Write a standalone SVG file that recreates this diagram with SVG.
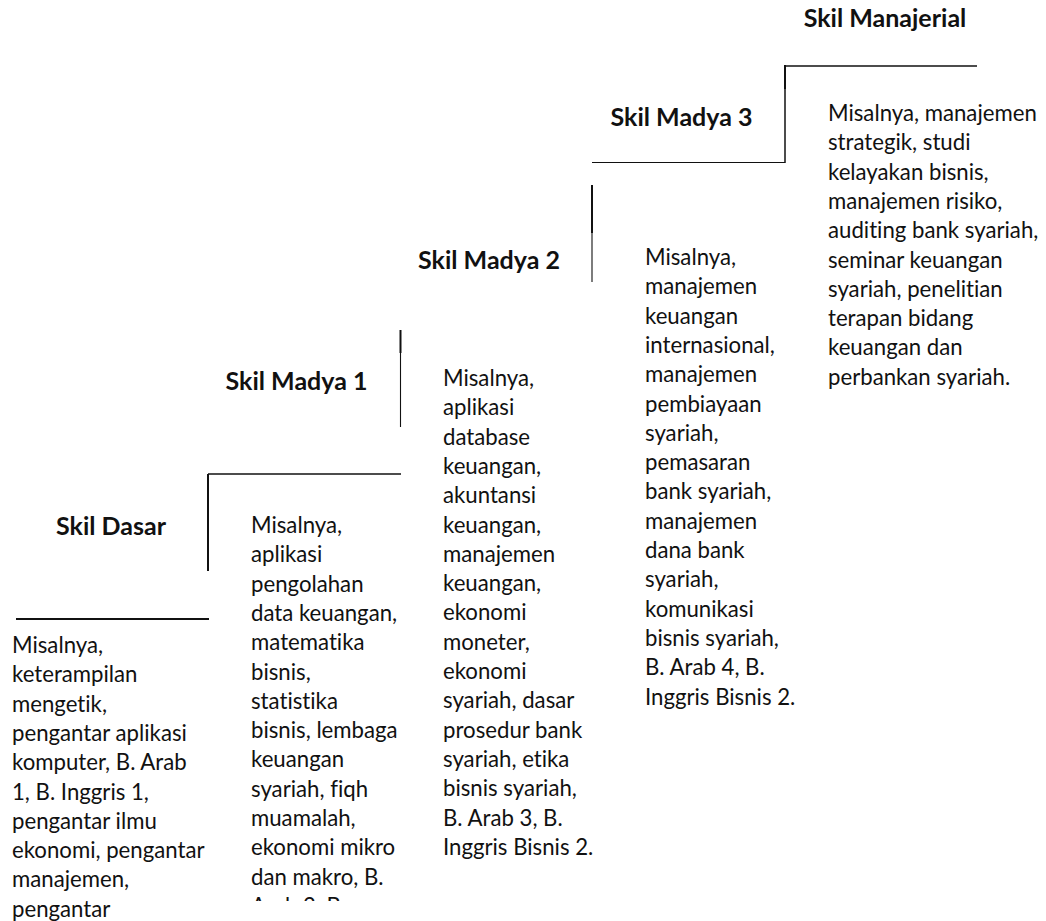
<svg xmlns="http://www.w3.org/2000/svg" width="1046" height="921" viewBox="0 0 1046 921">
  <style>
    .title { font-family: Lato, "Open Sans", "Liberation Sans", sans-serif; font-weight: bold; font-size: 25px; fill: #111; text-anchor: middle; font-variant-ligatures: none; }
    .body { font-family: Lato, "Open Sans", "Liberation Sans", sans-serif; font-size: 22.2px; fill: #111; font-variant-ligatures: none; }
    .stair { stroke: #111; fill: none; stroke-linecap: butt; }
    .thick { stroke-width: 2; }
    .mid { stroke-width: 1.5; }
    .thin { stroke-width: 1.1; }
  </style>
  <defs>
    <clipPath id="clip-col2">
      <rect x="240" y="480" width="170" height="421"/>
    </clipPath>
  </defs>
  <rect width="1046" height="921" fill="#fff"/>

  <!-- staircase strokes separating the skill levels -->
  <g id="connectors">
    <line class="stair thick" x1="16" y1="619" x2="209" y2="619"/>
    <line class="stair thick" x1="208" y1="474" x2="208" y2="571"/>
    <line class="stair mid" x1="208" y1="474" x2="401" y2="474"/>
    <line class="stair thick" x1="400.5" y1="330" x2="400.5" y2="353"/>
    <line class="stair thin" x1="400.5" y1="353" x2="400.5" y2="427"/>
    <line class="stair thick" x1="592" y1="185" x2="592" y2="233"/>
    <line class="stair thin" x1="592" y1="233" x2="592" y2="282"/>
    <line class="stair thin" x1="592" y1="162.5" x2="785" y2="162.5"/>
    <line class="stair thick" x1="785" y1="65" x2="785" y2="89"/>
    <line class="stair mid" x1="785" y1="89" x2="785" y2="163"/>
    <line class="stair mid" x1="784" y1="66" x2="977" y2="66"/>
  </g>

  <g id="node-dasar">
    <text class="title" x="111" y="535">Skil Dasar</text>
    <text class="body" x="12">
      <tspan x="12" y="653">Misalnya,</tspan>
      <tspan x="12" y="682.3">keterampilan</tspan>
      <tspan x="12" y="711.6">mengetik,</tspan>
      <tspan x="12" y="740.9">pengantar aplikasi</tspan>
      <tspan x="12" y="770.2">komputer, B. Arab</tspan>
      <tspan x="12" y="799.5">1, B. Inggris 1,</tspan>
      <tspan x="12" y="828.8">pengantar ilmu</tspan>
      <tspan x="12" y="858.1">ekonomi, pengantar</tspan>
      <tspan x="12" y="887.4">manajemen,</tspan>
      <tspan x="12" y="916.7">pengantar</tspan>
    </text>
  </g>

  <g id="node-madya-1">
    <text class="title" x="296.5" y="390">Skil Madya 1</text>
    <text class="body" x="251" clip-path="url(#clip-col2)">
      <tspan x="251" y="533">Misalnya,</tspan>
      <tspan x="251" y="562.3">aplikasi</tspan>
      <tspan x="251" y="591.6">pengolahan</tspan>
      <tspan x="251" y="620.9">data keuangan,</tspan>
      <tspan x="251" y="650.2">matematika</tspan>
      <tspan x="251" y="679.5">bisnis,</tspan>
      <tspan x="251" y="708.8">statistika</tspan>
      <tspan x="251" y="738.1">bisnis, lembaga</tspan>
      <tspan x="251" y="767.4">keuangan</tspan>
      <tspan x="251" y="796.7">syariah, fiqh</tspan>
      <tspan x="251" y="826">muamalah,</tspan>
      <tspan x="251" y="855.3">ekonomi mikro</tspan>
      <tspan x="251" y="884.6">dan makro, B.</tspan>
      <tspan x="251" y="913.9">Arab 2, B.</tspan>
    </text>
  </g>

  <g id="node-madya-2">
    <text class="title" x="489" y="269">Skil Madya 2</text>
    <text class="body" x="443">
      <tspan x="443" y="386">Misalnya,</tspan>
      <tspan x="443" y="415.3">aplikasi</tspan>
      <tspan x="443" y="444.6">database</tspan>
      <tspan x="443" y="473.9">keuangan,</tspan>
      <tspan x="443" y="503.2">akuntansi</tspan>
      <tspan x="443" y="532.5">keuangan,</tspan>
      <tspan x="443" y="561.8">manajemen</tspan>
      <tspan x="443" y="591.1">keuangan,</tspan>
      <tspan x="443" y="620.4">ekonomi</tspan>
      <tspan x="443" y="649.7">moneter,</tspan>
      <tspan x="443" y="679">ekonomi</tspan>
      <tspan x="443" y="708.3">syariah, dasar</tspan>
      <tspan x="443" y="737.6">prosedur bank</tspan>
      <tspan x="443" y="766.9">syariah, etika</tspan>
      <tspan x="443" y="796.2">bisnis syariah,</tspan>
      <tspan x="443" y="825.5">B. Arab 3, B.</tspan>
      <tspan x="443" y="854.8">Inggris Bisnis 2.</tspan>
    </text>
  </g>

  <g id="node-madya-3">
    <text class="title" x="681.5" y="126">Skil Madya 3</text>
    <text class="body" x="645">
      <tspan x="645" y="265">Misalnya,</tspan>
      <tspan x="645" y="294.3">manajemen</tspan>
      <tspan x="645" y="323.6">keuangan</tspan>
      <tspan x="645" y="352.9">internasional,</tspan>
      <tspan x="645" y="382.2">manajemen</tspan>
      <tspan x="645" y="411.5">pembiayaan</tspan>
      <tspan x="645" y="440.8">syariah,</tspan>
      <tspan x="645" y="470.1">pemasaran</tspan>
      <tspan x="645" y="499.4">bank syariah,</tspan>
      <tspan x="645" y="528.7">manajemen</tspan>
      <tspan x="645" y="558">dana bank</tspan>
      <tspan x="645" y="587.3">syariah,</tspan>
      <tspan x="645" y="616.6">komunikasi</tspan>
      <tspan x="645" y="645.9">bisnis syariah,</tspan>
      <tspan x="645" y="675.2">B. Arab 4, B.</tspan>
      <tspan x="645" y="704.5">Inggris Bisnis 2.</tspan>
    </text>
  </g>

  <g id="node-manajerial">
    <text class="title" x="885" y="27">Skil Manajerial</text>
    <text class="body" x="828">
      <tspan x="828" y="121">Misalnya, manajemen</tspan>
      <tspan x="828" y="150.3">strategik, studi</tspan>
      <tspan x="828" y="179.6">kelayakan bisnis,</tspan>
      <tspan x="828" y="208.9">manajemen risiko,</tspan>
      <tspan x="828" y="238.2">auditing bank syariah,</tspan>
      <tspan x="828" y="267.5">seminar keuangan</tspan>
      <tspan x="828" y="296.8">syariah, penelitian</tspan>
      <tspan x="828" y="326.1">terapan bidang</tspan>
      <tspan x="828" y="355.4">keuangan dan</tspan>
      <tspan x="828" y="384.7">perbankan syariah.</tspan>
    </text>
  </g>
</svg>
